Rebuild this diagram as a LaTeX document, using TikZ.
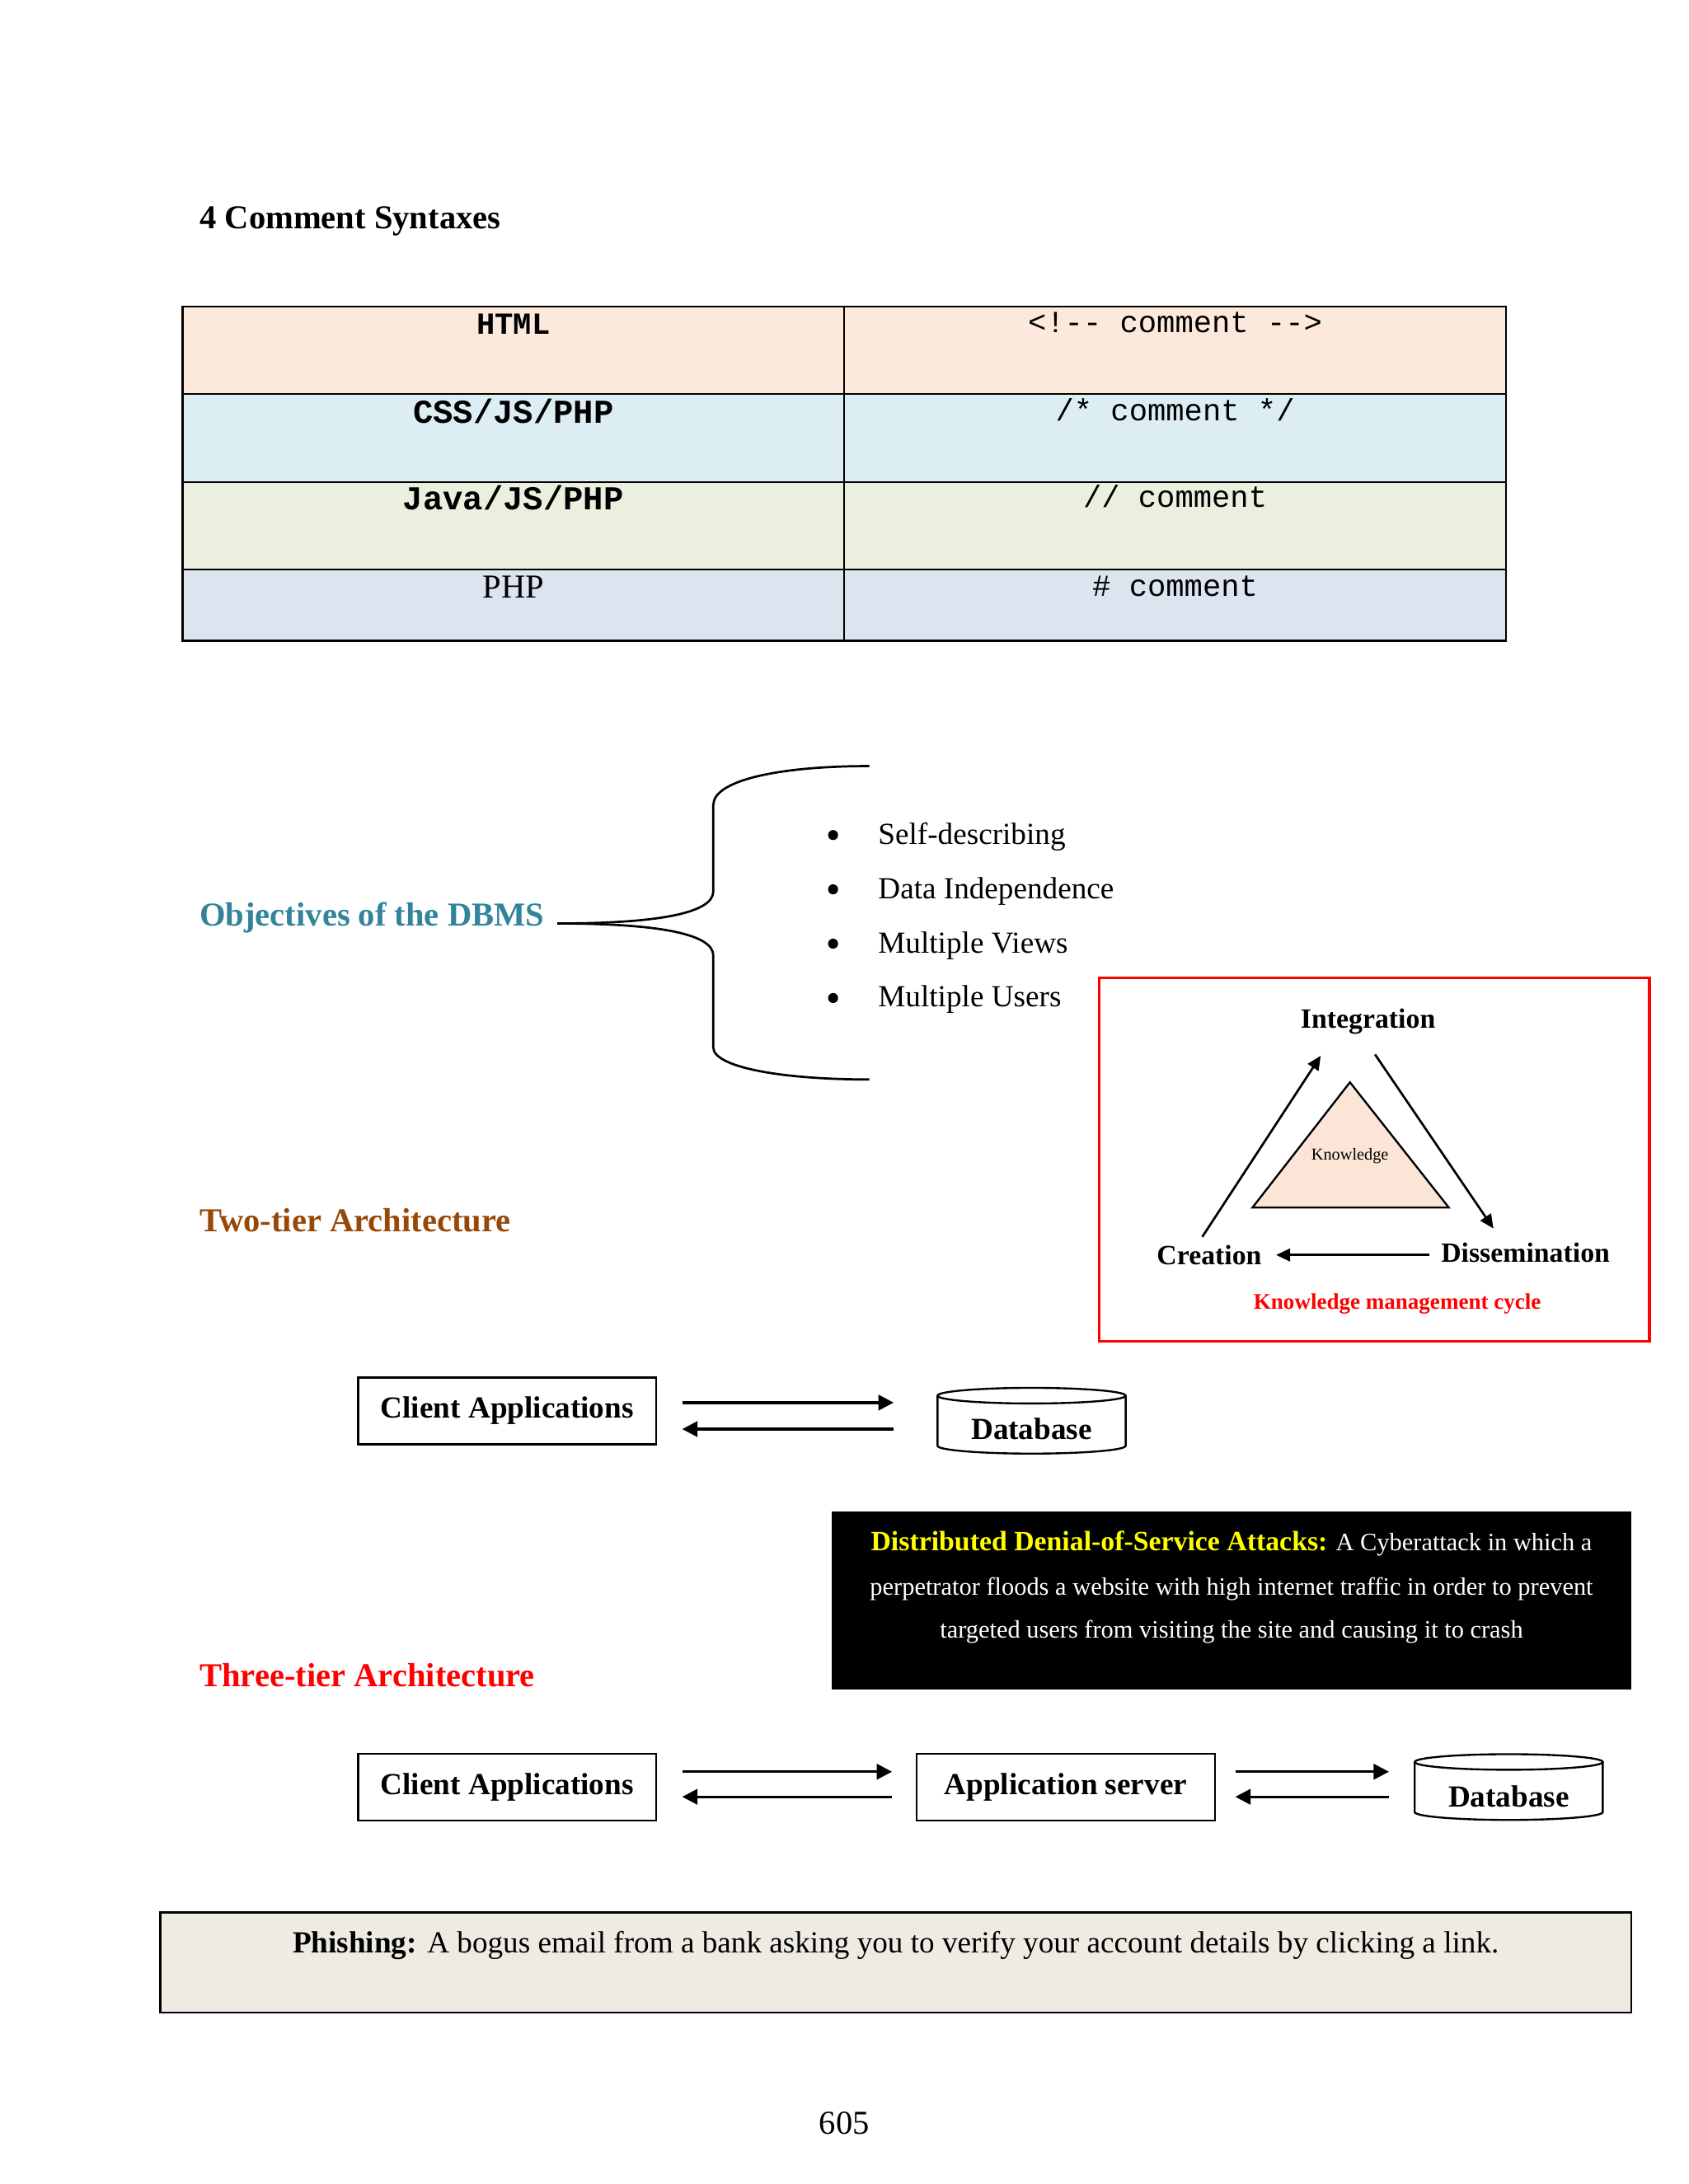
\documentclass[tikz,border=0pt]{standalone}
\usepackage{fontspec}
\setmainfont{Liberation Serif}
\setmonofont{Liberation Mono}
\usetikzlibrary{arrows.meta,calc}
\definecolor{rowA}{HTML}{FCE9DC}
\definecolor{rowB}{HTML}{DCEEF4}
\definecolor{rowC}{HTML}{EBF0DE}
\definecolor{rowD}{HTML}{DCE4F0}
\definecolor{tealT}{HTML}{31849B}
\definecolor{brownT}{HTML}{984806}
\definecolor{peachT}{HTML}{FBE5D6}
\definecolor{phishT}{HTML}{EEEBE2}
\definecolor{redT}{HTML}{FF0000}
\definecolor{yellowT}{HTML}{FFFF00}
\newcommand\fsz[1]{\fontsize{#1pt}{#1pt}\selectfont}
\begin{document}
\begin{tikzpicture}[x=0.5pt,y=-0.5pt,
  txt/.style={anchor=base,inner sep=0pt},
  cellb/.style={txt,font=\ttfamily\bfseries\fsz{12}},
  cellm/.style={txt,font=\ttfamily\fsz{11}},
  bullettxt/.style={anchor=base west,inner sep=0pt,font=\fsz{11}},
  bulletdot/.style={circle,fill=black,inner sep=0pt,minimum size=3.6pt},
  tierbox/.style={draw,line width=0.7pt,minimum width=107pt,minimum height=24pt,inner sep=0pt,font=\bfseries\fsz{11}},
  dbtxt/.style={inner sep=0pt,font=\bfseries\fsz{11}},
  arr/.style={line width=1pt,-{Triangle[length=5.5pt,width=5.5pt]}},
  cyc/.style={line width=0.8pt,-{Triangle[length=5pt,width=4.5pt]}},
  cyl/.style={line width=0.7pt}
]
\useasboundingbox[fill=white] (0,0) rectangle (1212,1568);

% heading
\node[txt,anchor=base west,font=\bfseries\fsz{12}] (head) at (143,164) {4 Comment Syntaxes};

% table
\fill[rowA] (131,220) rectangle (1081,283);
\fill[rowB] (131,283) rectangle (1081,346);
\fill[rowC] (131,346) rectangle (1081,409);
\fill[rowD] (131,409) rectangle (1081,460);
\draw[line width=0.7pt] (131,220) rectangle (1081,460);
\draw[line width=0.7pt] (131,283) -- (1081,283) (131,346) -- (1081,346) (131,409) -- (1081,409) (606,220) -- (606,460);
\node[cellb,font=\ttfamily\bfseries\fsz{11}] (l1) at (368.5,240) {HTML};
\node[cellb] (l2) at (368.5,304) {CSS/JS/PHP};
\node[cellb] (l3) at (368.5,366) {Java/JS/PHP};
\node[txt,font=\fsz{12}] (l4) at (368.5,429) {PHP};
\node[cellm] (r1) at (843.5,239) {<!-{}- comment -{}->};
\node[cellm] (r2) at (843.5,302) {/* comment */};
\node[cellm] (r3) at (843.5,364) {// comment};
\node[cellm] (r4) at (843.5,428) {\# comment};

% objectives with brace
\node[txt,anchor=base west,font=\bfseries\fsz{12},text=tealT] (obj) at (143,665) {Objectives of the DBMS};
\coordinate (tip) at (400,663);
\coordinate (btop) at (624,550);
\coordinate (bbot) at (624,775);
\draw[line width=0.8pt] (btop) .. controls (560,550) and (512,560) .. (512,578) -- (512,640)
  .. controls (512,656) and (470,663) .. (tip);
\draw[line width=0.8pt] (tip) .. controls (470,663) and (512,670) .. (512,686) -- (512,752)
  .. controls (512,766) and (560,775) .. (bbot);
\foreach \yy/\tt/\nn in {606/Self-describing/o1,645/Data Independence/o2,684/Multiple Views/o3,723/Multiple Users/o4}{
  \node[bulletdot] (\nn b) at (598,{\yy-6.5}) {};
  \node[bullettxt] (\nn) at (630,\yy) {\tt};
}

% knowledge management cycle
\draw[redT,line width=1pt] (789,702) rectangle (1184,963);
\draw[fill=peachT,line width=0.7pt] (969,777) -- (899,867) -- (1040,867) -- cycle;
\node[txt,font=\fsz{6}] (know) at (969,833) {Knowledge};
\node[txt,font=\bfseries\fsz{10}] (integ) at (982,738) {Integration};
\node[txt,font=\bfseries\fsz{10}] (creat) at (868,908) {Creation};
\node[txt,font=\bfseries\fsz{10}] (dissem) at (1095,906) {Dissemination};
\node[txt,font=\bfseries\fsz{8},text=redT] (kmc) at (1003,940) {Knowledge management cycle};
\coordinate (c1s) at (863,888);
\coordinate (c1e) at (948,758);
\coordinate (c2s) at (987,757);
\coordinate (c2e) at (1072,882);
\coordinate (c3s) at (1026,901);
\coordinate (c3e) at (916,901);
\draw[cyc] (c1s) -- (c1e);
\draw[cyc] (c2s) -- (c2e);
\draw[cyc] (c3s) -- (c3e);

% two-tier
\node[txt,anchor=base west,font=\bfseries\fsz{12},text=brownT] (two) at (143,884) {Two-tier Architecture};
\node[tierbox] (ca1) at (364,1013) {Client Applications};
\coordinate (db1) at (740.5,1020);
\draw[cyl] ($(db1)+(-67.5,-18)$) -- ($(db1)+(-67.5,18)$) arc[start angle=180,end angle=360,x radius=33.75pt,y radius=2.8pt]
  -- ($(db1)+(67.5,-18)$);
\draw[cyl] ($(db1)+(0,-18)$) ellipse[x radius=33.75pt,y radius=2.8pt];
\node[dbtxt] (db1t) at ($(db1)+(0,6)$) {Database};
\draw[arr] ($(ca1.east)+(18,-6)$) -- ($(db1)+(-99,-13)$);
\draw[arr] ($(db1)+(-99,6)$) -- ($(ca1.east)+(18,13)$);

% DDoS box
\node[fill=black,minimum width=287pt,minimum height=64pt,inner sep=0pt] (ddos) at (884,1149) {};
\node[txt,font=\fsz{9},text=white] (dd1) at (884,1113) {{\color{yellowT}\bfseries\fsz{10}Distributed Denial-of-Service Attacks:} A Cyberattack in which a};
\node[txt,font=\fsz{9},text=white] (dd2) at (884,1145) {perpetrator floods a website with high internet traffic in order to prevent};
\node[txt,font=\fsz{9},text=white] (dd3) at (884,1176) {targeted users from visiting the site and causing it to crash};

% three-tier
\node[txt,anchor=base west,font=\bfseries\fsz{12},text=redT] (three) at (143,1211) {Three-tier Architecture};
\node[tierbox] (ca2) at (364,1283) {Client Applications};
\node[tierbox] (as2) at (765,1283) {Application server};
\coordinate (db2) at (1083,1283);
\draw[cyl] ($(db2)+(-67.5,-18)$) -- ($(db2)+(-67.5,18)$) arc[start angle=180,end angle=360,x radius=33.75pt,y radius=2.8pt]
  -- ($(db2)+(67.5,-18)$);
\draw[cyl] ($(db2)+(0,-18)$) ellipse[x radius=33.75pt,y radius=2.8pt];
\node[dbtxt] (db2t) at ($(db2)+(0,7)$) {Database};
\draw[arr] ($(ca2.east)+(18,-11)$) -- ($(as2.west)+(-17,-11)$);
\draw[arr] ($(as2.west)+(-17,7)$) -- ($(ca2.east)+(18,7)$);
\draw[arr] ($(as2.east)+(14,-11)$) -- ($(db2)+(-86,-11)$);
\draw[arr] ($(db2)+(-86,7)$) -- ($(as2.east)+(14,7)$);

% phishing box
\node[draw,fill=phishT,line width=0.7pt,minimum width=528pt,minimum height=36pt,inner sep=0pt] (phish) at (643,1409) {};
\node[txt,font=\fsz{11}] (ph) at (643,1402) {\textbf{Phishing:} A bogus email from a bank asking you to verify your account details by clicking a link.};

% page number
\node[txt,font=\fsz{12}] (pg) at (606,1532) {605};
\end{tikzpicture}
\end{document}
